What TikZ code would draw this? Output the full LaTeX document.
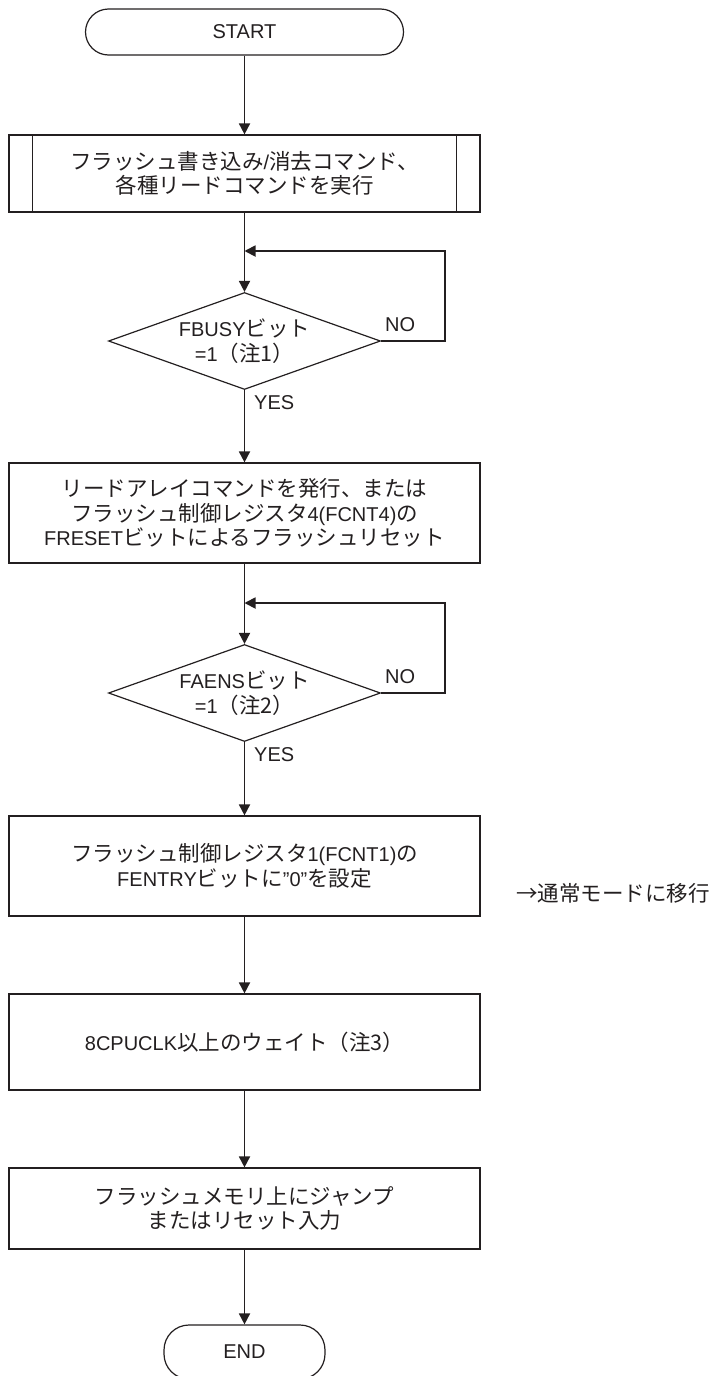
\documentclass[tikz,border=0pt]{standalone}
\usepackage{fontspec}
\setmainfont{Liberation Sans}
\newfontfamily\jp[Scale=1.075]{Noto Sans CJK JP}
\usetikzlibrary{arrows.meta,shapes.geometric}
\definecolor{ink}{HTML}{231F20}
\begin{document}
\begin{tikzpicture}[x=1pt,y=-1pt,
  txt/.style={font=\fontsize{20}{24.5}\selectfont, text=ink, align=center},
  shp/.style={draw=ink, line width=1.2pt, txt},
  procbox/.style={shp, rectangle, minimum width=471pt, inner sep=0pt},
  term/.style={shp, rectangle, rounded corners=23pt, minimum height=46pt, inner sep=0pt},
  dec/.style={shp, diamond, minimum width=272pt, minimum height=97pt, inner sep=0pt, aspect=2.8},
  arr/.style={draw=ink, line width=1.8pt, -{Triangle[width=11pt,length=11pt]}},
  thin/.style={draw=ink, line width=1.2pt},
  lab/.style={txt, inner sep=0pt, anchor=west}
]
\useasboundingbox (0,0) rectangle (709,1376);

\node[term, minimum width=318pt] (start) at (244.5,32) {START};

\node[procbox, minimum height=77pt] (b1) at (244.5,173.5) {{\jp フラッシュ書き込み}/{\jp 消去コマンド、}\\{\jp 各種リードコマンドを実行}};
\draw[thin] ([xshift=24pt]b1.north west) -- ([xshift=24pt]b1.south west);
\draw[thin] ([xshift=-24pt]b1.north east) -- ([xshift=-24pt]b1.south east);

\node[dec] (d1) at (244.5,341) {FBUSY{\jp ビット}\\=1{\jp （注1）}};
\coordinate (m1) at (244.5,251);
\node[lab] (no1) at (385,325) {NO};
\node[lab] (yes1) at (254,403) {YES};

\node[procbox, minimum height=100pt] (b2) at (244.5,513) {{\jp リードアレイコマンドを発行、または}\\{\jp フラッシュ制御レジスタ}4(FCNT4){\jp の}\\FRESET{\jp ビットによるフラッシュリセット}};

\node[dec] (d2) at (244.5,693) {FAENS{\jp ビット}\\=1{\jp （注2）}};
\coordinate (m2) at (244.5,603);
\node[lab] (no2) at (385,677) {NO};
\node[lab] (yes2) at (254,755) {YES};

\node[procbox, minimum height=100pt] (b3) at (244.5,866) {{\jp フラッシュ制御レジスタ}1(FCNT1){\jp の}\\FENTRY{\jp ビットに}\char34 0\char34{\jp を設定}};
\node[lab] (side) at (516,893) {{\jp →通常モードに移行}};

\node[procbox, minimum height=96pt] (b4) at (244.5,1042) {8CPUCLK{\jp 以上のウェイト（注3）}};

\node[procbox, minimum height=81pt] (b5) at (244.5,1208.5) {{\jp フラッシュメモリ上にジャンプ}\\{\jp またはリセット入力}};

\node[term, minimum width=161pt, minimum height=54pt, rounded corners=25pt] (end) at (244.5,1352) {END};

\draw[arr] (start) -- (b1);
\draw[arr] (b1) -- (d1);
\draw[arr] (d1.east) -- ++(64,0) |- (m1);
\draw[arr] (d1) -- (b2);
\draw[arr] (b2) -- (d2);
\draw[arr] (d2.east) -- ++(64,0) |- (m2);
\draw[arr] (d2) -- (b3);
\draw[arr] (b3) -- (b4);
\draw[arr] (b4) -- (b5);
\draw[arr] (b5) -- (end);
\end{tikzpicture}
\end{document}
